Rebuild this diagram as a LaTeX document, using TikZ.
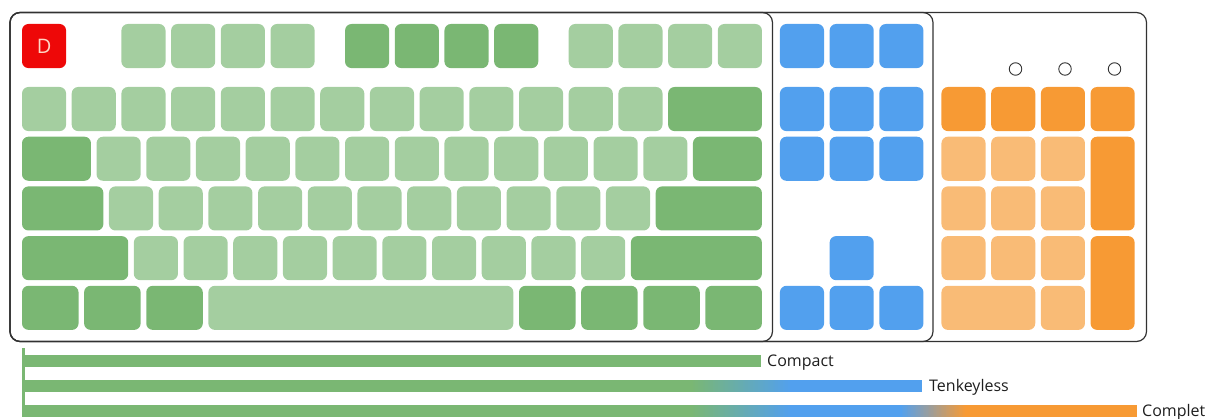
\documentclass[tikz,border=0pt]{standalone}
\usepackage{fontspec}
\setmainfont{Open Sans}
\definecolor{lg}{RGB}{164,206,160}
\definecolor{dg}{RGB}{122,183,115}
\definecolor{bl}{RGB}{82,160,238}
\definecolor{dor}{RGB}{247,154,52}
\definecolor{lor}{RGB}{249,187,118}
\definecolor{rd}{RGB}{238,8,8}
\definecolor{peach}{RGB}{255,214,196}
\definecolor{framec}{RGB}{50,50,50}
\definecolor{txt}{RGB}{30,30,30}
\newcommand{\kbkey}[5]{\node[#1, minimum width={(#5)*49.7pt-5.6pt}] (#2) at ({22+(#3)*49.7},#4) {};}
\newcommand{\kbtall}[4]{\node[#1, minimum width=44.1pt, minimum height=93.8pt] (#2) at ({22+(#3)*49.7},#4) {};}
% blend strip: x0, x1, ytop, colour from, colour to
\newcommand{\kbblend}[5]{%
  \foreach \k in {0,...,39} {%
    \pgfmathsetmacro\pc{100-\k*2.5}%
    \pgfmathsetmacro\xa{#1+(#2-#1)*\k/40}%
    \pgfmathsetmacro\xb{#1+(#2-#1)*(\k+1)/40+0.4}%
    \fill[#4!\pc!#5] (\xa,#3) rectangle (\xb,#3+12);
  }%
}
\begin{document}
\begin{tikzpicture}[x=1pt,y=-1pt,
  keybase/.style={rectangle, rounded corners=6.5pt, inner sep=0pt, outer sep=0pt, anchor=north west, minimum height=44.1pt},
  klg/.style={keybase, fill=lg},
  kdg/.style={keybase, fill=dg},
  kbl/.style={keybase, fill=bl},
  kdo/.style={keybase, fill=dor},
  klo/.style={keybase, fill=lor},
  kframe/.style={draw=framec, line width=1.2pt, rounded corners=10pt},
  led/.style={circle, draw=framec, line width=0.9pt, minimum size=12.5pt, inner sep=0pt},
  barlabel/.style={font=\fontsize{16}{18}\selectfont, text=txt, inner sep=0pt, anchor=base west}
]
\useasboundingbox (0,0) rectangle (1209,419);

% frames
\draw[kframe] (10,12.5) rectangle (1146.5,341.5);
\draw[kframe] (10,12.5) rectangle (933,341.5);
\draw[kframe] (10,12.5) rectangle (772.5,341.5);

% function row
\node[keybase, fill=rd, minimum width=44.1pt, font=\fontsize{20}{20}\selectfont, text=peach] (esc) at (22,24) {D};
\foreach \i [count=\n from 1] in {2,3,4,5} {\kbkey{klg}{f\n}{\i}{24}{1}}
\foreach \i [count=\n from 5] in {6.5,7.5,8.5,9.5} {\kbkey{kdg}{f\n}{\i}{24}{1}}
\foreach \i [count=\n from 9] in {11,12,13,14} {\kbkey{klg}{f\n}{\i}{24}{1}}

% number row
\foreach \i in {0,...,12} {\kbkey{klg}{n\i}{\i}{87}{1}}
\kbkey{kdg}{bksp}{13}{87}{2}

% tab row
\kbkey{kdg}{tab}{0}{136.7}{1.5}
\foreach \i in {0,...,11} {\kbkey{klg}{t\i}{1.5+\i}{136.7}{1}}
\kbkey{kdg}{bslash}{13.5}{136.7}{1.5}

% caps row
\kbkey{kdg}{caps}{0}{186.4}{1.75}
\foreach \i in {0,...,10} {\kbkey{klg}{c\i}{1.75+\i}{186.4}{1}}
\kbkey{kdg}{enter}{12.75}{186.4}{2.25}

% shift row
\kbkey{kdg}{lshift}{0}{236.1}{2.25}
\foreach \i in {0,...,9} {\kbkey{klg}{s\i}{2.25+\i}{236.1}{1}}
\kbkey{kdg}{rshift}{12.25}{236.1}{2.75}

% bottom row
\kbkey{kdg}{lctrl}{0}{285.8}{1.25}
\kbkey{kdg}{lwin}{1.25}{285.8}{1.25}
\kbkey{kdg}{lalt}{2.5}{285.8}{1.25}
\kbkey{klg}{space}{3.75}{285.8}{6.25}
\kbkey{kdg}{ralt}{10}{285.8}{1.25}
\kbkey{kdg}{rwin}{11.25}{285.8}{1.25}
\kbkey{kdg}{menu}{12.5}{285.8}{1.25}
\kbkey{kdg}{rctrl}{13.75}{285.8}{1.25}

% navigation cluster
\foreach \i [count=\n] in {15.25,16.25,17.25} {
  \kbkey{kbl}{sys\n}{\i}{24}{1}
  \kbkey{kbl}{ins\n}{\i}{87}{1}
  \kbkey{kbl}{del\n}{\i}{136.7}{1}
  \kbkey{kbl}{arr\n}{\i}{285.8}{1}
}
\kbkey{kbl}{up}{16.25}{236.1}{1}

% numpad
\foreach \i [count=\n] in {18.5,19.5,20.5,21.5} {\kbkey{kdo}{np\n}{\i}{87}{1}}
\foreach \i [count=\n] in {18.5,19.5,20.5} {
  \kbkey{klo}{na\n}{\i}{136.7}{1}
  \kbkey{klo}{nb\n}{\i}{186.4}{1}
  \kbkey{klo}{nc\n}{\i}{236.1}{1}
}
\kbtall{kdo}{nplus}{21.5}{136.7}
\kbtall{kdo}{nenter}{21.5}{236.1}
\kbkey{klo}{nzero}{18.5}{285.8}{2}
\kbkey{klo}{ndot}{20.5}{285.8}{1}

% indicator lights
\node[led] (led1) at (1015.5,69) {};
\node[led] (led2) at (1065,69) {};
\node[led] (led3) at (1114.5,69) {};

% size bars
\fill[dg] (22,348) rectangle (24.5,417);
\fill[dg] (22,355) rectangle (761,367);
\node[barlabel] (compact) at (767,366) {Compact};

\fill[dg] (22,380) rectangle (690.5,392);
\kbblend{690}{790}{380}{dg}{bl}
\fill[bl] (790,380) rectangle (922,392);
\node[barlabel] (tkl) at (929,391) {Tenkeyless};

\fill[dg] (22,405) rectangle (690.5,417);
\kbblend{690}{790}{405}{dg}{bl}
\fill[bl] (790,405) rectangle (900.5,417);
\kbblend{900}{965}{405}{bl}{dor}
\fill[dor] (965,405) rectangle (1137,417);
\node[barlabel] (full) at (1142,416) {Complet};
\end{tikzpicture}
\end{document}
